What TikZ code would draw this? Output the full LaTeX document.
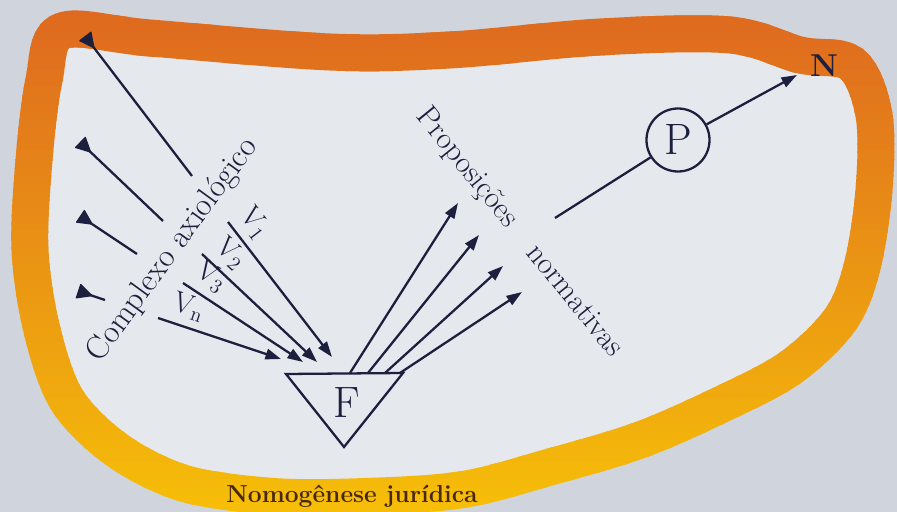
\documentclass[tikz,border=0pt]{standalone}
\usepackage{fontspec}
\usepackage{tikz}
\usetikzlibrary{arrows.meta,calc}
\definecolor{ink}{RGB}{28,32,62}
\definecolor{bgout}{RGB}{208,213,221}
\definecolor{bgin}{RGB}{229,232,237}
\definecolor{bandtop}{RGB}{222,104,32}
\definecolor{bandbot}{RGB}{246,190,8}
\definecolor{nomoink}{RGB}{72,40,12}
\newcommand{\blobpath}{plot[smooth cycle,tension=0.55] coordinates {(62,31) (150,38) (330,52) (450,50) (600,37) (730,35) (800,55) (852,64) (874,115) (874,190) (862,267) (840,320) (790,368) (720,405) (640,440) (550,467) (460,490) (350,497) (267,496) (183,483) (117,450) (67,400) (42,330) (30,250) (34,160) (44,80)}}

\begin{document}
\begin{tikzpicture}[x=0.2mm,y=-0.2mm,
  vec/.style={draw=ink,line width=1.3pt,-{Triangle[length=3.1mm,width=2.1mm]}},
  lab/.style={text=ink,font=\fontsize{16.5}{20}\selectfont,inner sep=1pt,above=3pt,sloped},
  big/.style={text=ink,font=\fontsize{25}{30}\selectfont}]
\fill[bgout] (0,0) rectangle (897,512);
\useasboundingbox (0,0) rectangle (897,512);
\fill[bgin] \blobpath;
% orange-to-yellow band, drawn in horizontal slices
\foreach \y in {0,8,...,504}{
  \pgfmathtruncatemacro{\pct}{\y/5.04}
  \begin{scope}
    \clip (-5,\y) rectangle (905,\y+9);
    \draw[bandbot!\pct!bandtop,line width=7.4mm] \blobpath;
  \end{scope}}
% left side: lines with a wedge at the outer end
\coordinate (t1) at (85,36);\coordinate (t1e) at (192,176);
\coordinate (t2) at (80,142);\coordinate (t2e) at (163,221);
\coordinate (t3) at (80,216);\coordinate (t3e) at (137,254);
\coordinate (t4) at (78,291);\coordinate (t4e) at (105,300);
\foreach \t in {t1,t2,t3,t4}{
  \fill[ink,rounded corners=0.5pt] ($(\t)!1.6mm!90:(\t e)$)--($(\t)!3.2mm!(\t e)$)--($(\t)!1.6mm!-90:(\t e)$)--cycle;
  \draw[ink,line width=1.3pt] ($(\t)!2mm!(\t e)$)--(\t e);}
\node[text=ink,font=\fontsize{18.5}{22}\selectfont,rotate=54] (cax) at (173,250) {Complexo axiológico};
\coordinate (v1) at (228,222);\coordinate (v1e) at (332,357);
\coordinate (v2) at (202,254);\coordinate (v2e) at (317,362);
\coordinate (v3) at (183,283);\coordinate (v3e) at (303,362);
\coordinate (vn) at (158,318);\coordinate (vne) at (281,359);
\draw[vec] (v1)--node[lab,pos=0.1]{V\textsubscript{1}}(v1e);
\draw[vec] (v2)--node[lab,pos=0.13]{V\textsubscript{2}}(v2e);
\draw[vec] (v3)--node[lab,pos=0.14]{V\textsubscript{3}}(v3e);
\draw[vec] (vn)--node[lab,pos=0.2]{V\textsubscript{n}}(vne);
% F
\coordinate (tl) at (286,374);\coordinate (tr) at (403,373);\coordinate (bt) at (344,447);
\draw[ink,line width=1.3pt] (tl)--(tr)--(bt)--cycle;
\node[big] (f) at (347,403) {F};
\coordinate (o1) at (350,373);\coordinate (o2) at (368,373);\coordinate (o3) at (385,373);\coordinate (o4) at (400,373);
\coordinate (a1) at (458,203);\coordinate (a2) at (479,235);\coordinate (a3) at (503,266);\coordinate (a4) at (522,292);
\draw[vec] (o1)--(a1);\draw[vec] (o2)--(a2);\draw[vec] (o3)--(a3);\draw[vec] (o4)--(a4);
\node[text=ink,font=\fontsize{17.5}{21}\selectfont,rotate=-51] (pn) at (519,233) {Proposições\hspace{0.7em} normativas};
% P and N
\node[big,draw=ink,line width=1.3pt,circle,minimum size=12.6mm,inner sep=0pt] (p) at (678,140) {P};
\coordinate (pin) at (555,218);\coordinate (ntip) at (797,75);
\draw[ink,line width=1.3pt] (pin)--(p);
\draw[vec] (p)--(ntip);
\node[text=ink,font=\bfseries\fontsize{18}{21}\selectfont] (n) at (824,66) {N};
\node[text=nomoink,font=\bfseries\fontsize{14}{17}\selectfont] (nomo) at (352,496) {Nomogênese jurídica};
\end{tikzpicture}
\end{document}
